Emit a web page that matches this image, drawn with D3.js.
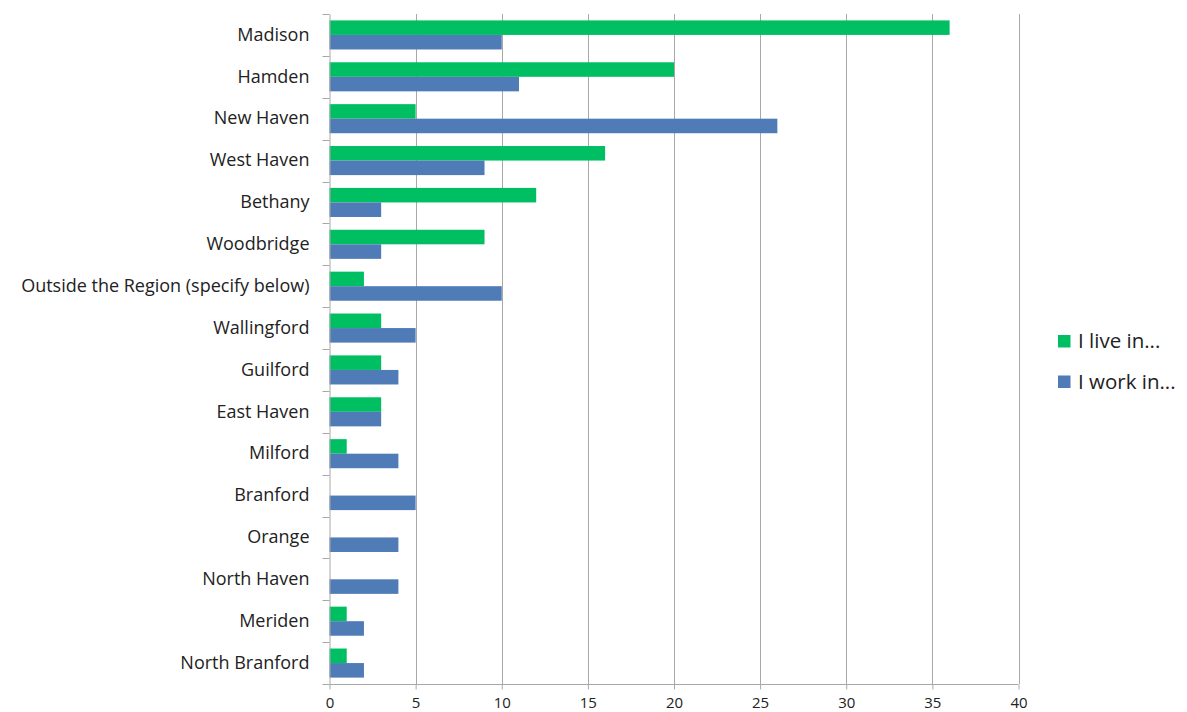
<!DOCTYPE html>
<html><head><meta charset="utf-8">
<script src="https://cdn.jsdelivr.net/npm/d3@7"></script>
<style>body{margin:0;background:#fff;} text{font-family:"Open Sans",sans-serif;fill:#222;}</style>
</head><body>
<svg id="c" width="1187" height="712"></svg>
<script>
const categories = ["Madison","Hamden","New Haven","West Haven","Bethany","Woodbridge","Outside the Region (specify below)","Wallingford","Guilford","East Haven","Milford","Branford","Orange","North Haven","Meriden","North Branford"];
const liveIn = [36,20,5,16,12,9,2,3,3,3,1,0,0,0,1,1];
const workIn = [10,11,26,9,3,3,10,5,4,3,4,5,4,4,2,2];
const seriesNames = ["I live in...","I work in..."];
const seriesColors = ["#00BF63","#4F7BB6"];
const xTicks = [0,5,10,15,20,25,30,35,40];

const svg = d3.select("#c");
const L = 329.5, R = 1018.5, T = 14, B = 684;
const x = d3.scaleLinear().domain([0,40]).range([L,R]);
const y = d3.scaleBand().domain(categories).range([T,B]).paddingInner(0).paddingOuter(0);
const ys = d3.scaleBand().domain([0,1]).range([0,y.bandwidth()]).paddingInner(0).paddingOuter(0.44);

// gridlines
svg.append("g").selectAll("line").data(xTicks.slice(1)).join("line")
  .attr("x1",d=>Math.round(x(d))+0.5).attr("x2",d=>Math.round(x(d))+0.5)
  .attr("y1",T).attr("y2",B).attr("stroke","#a8a8a8").attr("stroke-width",1);

// bars
const data = categories.map((c,i)=>({c, v:[liveIn[i], workIn[i]]}));
const g = svg.append("g");
data.forEach(d=>{
  d.v.forEach((v,j)=>{
    if(v<=0) return;
    g.append("rect").attr("x",x(0)).attr("y",y(d.c)+ys(j))
     .attr("width",x(v)-x(0)).attr("height",ys.bandwidth())
     .attr("fill",seriesColors[j]);
  });
});

// y axis
const yAxis = d3.axisLeft(y).tickSize(0).tickPadding(20);
const ya = svg.append("g").attr("transform",`translate(${L},0)`).call(yAxis);
ya.select(".domain").attr("stroke","#a8a8a8");
ya.selectAll("text").style("font-size","18px").style("font-family","'Open Sans',sans-serif").attr("fill","#222");
// category boundary ticks
const bounds = categories.map(c=>y(c)).concat([B]);
svg.append("g").selectAll("line").data(bounds).join("line")
  .attr("x1",L-7).attr("x2",L).attr("y1",d=>Math.round(d)+0.5).attr("y2",d=>Math.round(d)+0.5)
  .attr("stroke","#a8a8a8");

// x axis
const xAxis = d3.axisBottom(x).tickValues(xTicks).tickSize(5).tickPadding(8);
const xa = svg.append("g").attr("transform",`translate(0,${B+0.5})`).call(xAxis);
xa.select(".domain").attr("stroke","#a8a8a8").attr("d",`M${L},0H${R}`);
xa.selectAll(".tick line").attr("stroke","#a8a8a8");
xa.selectAll("text").style("font-size","15px").style("font-family","'Open Sans',sans-serif").attr("fill","#222");

// legend
const lg = svg.append("g").attr("transform","translate(1058,335)");
seriesNames.forEach((n,i)=>{
  lg.append("rect").attr("x",0).attr("y",i*40.5).attr("width",12.5).attr("height",12.5).attr("fill",seriesColors[i]);
  lg.append("text").attr("x",20).attr("y",i*40.5+13).style("font-size","20.5px").text(n);
});
</script>
</body></html>
